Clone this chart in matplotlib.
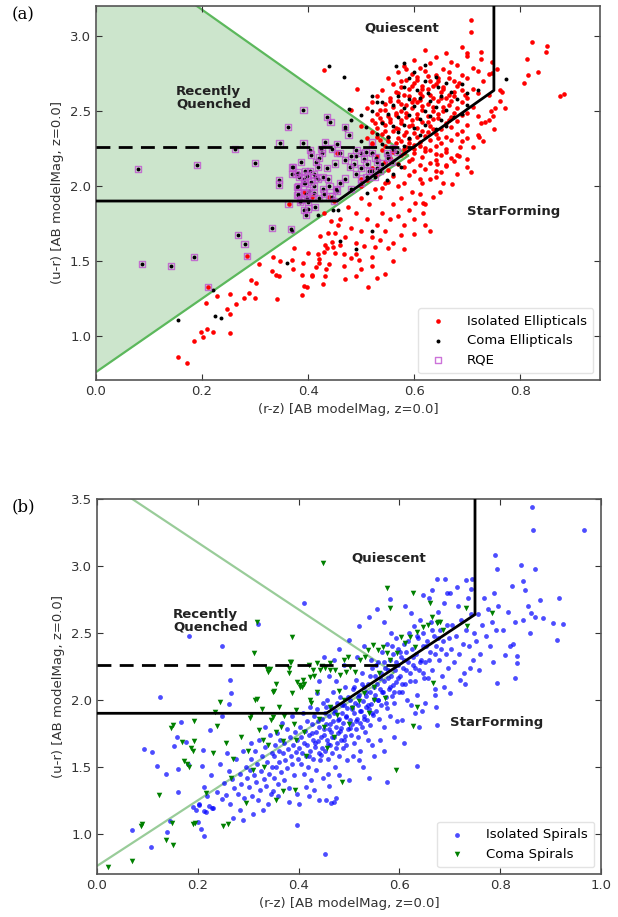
import numpy as np
import matplotlib.pyplot as plt

# colours as (r-z, u-r) pairs
iso_ell = np.array([
    # blue tail running down the lower edge
    (0.155, 0.862), (0.171, 0.818), (0.184, 0.969), (0.197, 1.029), (0.202, 0.996), (0.209, 1.047),
    (0.221, 1.029), (0.253, 1.018), (0.208, 1.218), (0.228, 1.267), (0.252, 1.280), (0.247, 1.178),
    (0.252, 1.147), (0.263, 1.213), (0.279, 1.256), (0.288, 1.284), (0.299, 1.256), (0.293, 1.373),
    (0.302, 1.351), (0.307, 1.478), (0.331, 1.436), (0.333, 1.529), (0.340, 1.407), (0.345, 1.400),
    (0.346, 1.500), (0.342, 1.244), (0.369, 1.507), (0.374, 1.584), (0.371, 1.444), (0.388, 1.407),
    (0.390, 1.484), (0.397, 1.329), (0.388, 1.273), (0.399, 1.551), (0.408, 1.400), (0.414, 1.458),
    (0.419, 1.547), (0.423, 1.667), (0.421, 1.511), (0.434, 1.444), (0.431, 1.607), (0.430, 1.560),
    (0.443, 1.769), (0.438, 1.689), (0.447, 1.596), (0.432, 1.400), (0.428, 1.350), (0.456, 1.740),
    (0.468, 1.470), (0.467, 1.550), (0.430, 1.820), (0.392, 1.333), (0.407, 1.407), (0.420, 1.484),
    (0.435, 1.584), (0.451, 1.551), (0.445, 1.629), (0.495, 1.507), (0.513, 1.329), (0.544, 1.413),
    (0.526, 1.596), (0.550, 1.584), (0.574, 1.673), (0.601, 1.890), (0.617, 1.890), (0.616, 1.818),
    (0.648, 1.962), (0.671, 2.013), (0.707, 2.095),
    (0.47, 1.66), (0.48, 1.72), (0.49, 1.62), (0.50, 1.70), (0.51, 1.78), (0.52, 1.66), (0.53, 1.74),
    (0.54, 1.82), (0.545, 1.70), (0.555, 1.78), (0.56, 1.88), (0.57, 1.80), (0.575, 1.92), (0.58, 1.74),
    (0.59, 1.84), (0.595, 1.96), (0.60, 1.78), (0.61, 1.95), (0.615, 2.02), (0.62, 1.88), (0.63, 2.05),
    (0.635, 1.93), (0.64, 2.10), (0.655, 2.02), (0.66, 2.14), (0.68, 2.08), (0.685, 2.20), (0.69, 2.30),
    (0.70, 2.18), (0.71, 2.26), (0.72, 2.34), (0.725, 2.42), (0.46, 1.78), (0.475, 1.86), (0.49, 1.82),
    (0.50, 1.92), (0.515, 1.88), (0.525, 1.98), (0.535, 1.93), (0.545, 2.02), (0.49, 1.55), (0.505, 1.60),
    (0.52, 1.53), (0.535, 1.64), (0.56, 1.62), (0.58, 1.58), (0.60, 1.68), (0.62, 1.74), (0.63, 1.70),
    (0.45, 1.69), (0.46, 1.61), (0.48, 1.52), (0.50, 1.45), (0.52, 1.47), (0.53, 1.39), (0.56, 1.50),
    (0.47, 1.38), (0.44, 1.48), (0.49, 1.40),
    # main red sequence clump
    (0.62, 2.91), (0.66, 2.89), (0.69, 2.93), (0.60, 2.84), (0.64, 2.86), (0.67, 2.83), (0.70, 2.87),
    (0.58, 2.80), (0.61, 2.79), (0.63, 2.82), (0.655, 2.78), (0.68, 2.81), (0.71, 2.79), (0.57, 2.76),
    (0.595, 2.75), (0.62, 2.77), (0.64, 2.74), (0.665, 2.76), (0.69, 2.74), (0.72, 2.77), (0.74, 2.75),
    (0.55, 2.72), (0.585, 2.71), (0.605, 2.73), (0.63, 2.70), (0.645, 2.72), (0.675, 2.70), (0.70, 2.72),
    (0.73, 2.70), (0.56, 2.68), (0.575, 2.66), (0.60, 2.69), (0.615, 2.67), (0.64, 2.68), (0.655, 2.66),
    (0.68, 2.67), (0.71, 2.65), (0.54, 2.64), (0.565, 2.63), (0.59, 2.645), (0.61, 2.62), (0.625, 2.65),
    (0.65, 2.63), (0.665, 2.61), (0.69, 2.64), (0.72, 2.62), (0.53, 2.60), (0.555, 2.59), (0.58, 2.61),
    (0.60, 2.58), (0.615, 2.60), (0.635, 2.59), (0.66, 2.585), (0.675, 2.60), (0.70, 2.59), (0.74, 2.61),
    (0.52, 2.56), (0.545, 2.55), (0.57, 2.57), (0.585, 2.54), (0.605, 2.56), (0.625, 2.55), (0.645, 2.57),
    (0.665, 2.54), (0.69, 2.56), (0.71, 2.53), (0.51, 2.52), (0.535, 2.51), (0.56, 2.53), (0.575, 2.50),
    (0.595, 2.52), (0.615, 2.51), (0.635, 2.53), (0.655, 2.50), (0.68, 2.52), (0.70, 2.49), (0.53, 2.48),
    (0.55, 2.47), (0.565, 2.49), (0.585, 2.46), (0.605, 2.48), (0.625, 2.465), (0.645, 2.48), (0.67, 2.46),
    (0.69, 2.475), (0.72, 2.47), (0.52, 2.44), (0.54, 2.43), (0.555, 2.45), (0.575, 2.42), (0.595, 2.44),
    (0.615, 2.43), (0.635, 2.445), (0.66, 2.42), (0.68, 2.435), (0.70, 2.41), (0.50, 2.40), (0.53, 2.39),
    (0.545, 2.41), (0.57, 2.38), (0.59, 2.40), (0.605, 2.385), (0.63, 2.40), (0.65, 2.38), (0.67, 2.395),
    (0.69, 2.37), (0.52, 2.36), (0.54, 2.345), (0.56, 2.365), (0.58, 2.34), (0.60, 2.355), (0.62, 2.335),
    (0.64, 2.35), (0.66, 2.33), (0.68, 2.345), (0.51, 2.32), (0.535, 2.31), (0.55, 2.325), (0.575, 2.30),
    (0.59, 2.315), (0.61, 2.295), (0.63, 2.31), (0.65, 2.29), (0.67, 2.305), (0.70, 2.32), (0.52, 2.28),
    (0.545, 2.27), (0.565, 2.285), (0.585, 2.26), (0.60, 2.275), (0.62, 2.255), (0.64, 2.27), (0.66, 2.25),
    (0.54, 2.24), (0.56, 2.23), (0.58, 2.245), (0.60, 2.22), (0.62, 2.235), (0.64, 2.215), (0.66, 2.23),
    (0.68, 2.21), (0.53, 2.20), (0.555, 2.19), (0.575, 2.205), (0.595, 2.18), (0.615, 2.195), (0.64, 2.175),
    (0.67, 2.19), (0.545, 2.16), (0.57, 2.15), (0.59, 2.165), (0.61, 2.14), (0.63, 2.155), (0.66, 2.135),
    (0.52, 2.12), (0.55, 2.11), (0.58, 2.125), (0.60, 2.10), (0.62, 2.115), (0.65, 2.095), (0.70, 2.13),
    (0.53, 2.08), (0.56, 2.065), (0.59, 2.075), (0.61, 2.05), (0.64, 2.06), (0.51, 2.04), (0.55, 2.03),
    (0.58, 2.02), (0.50, 2.00), (0.54, 1.99), (0.57, 2.00),
    (0.585, 2.78), (0.605, 2.71), (0.625, 2.735), (0.645, 2.70), (0.665, 2.72), (0.685, 2.69),
    (0.575, 2.70), (0.595, 2.665), (0.615, 2.645), (0.635, 2.665), (0.655, 2.645), (0.675, 2.625),
    (0.695, 2.61), (0.57, 2.62), (0.59, 2.60), (0.61, 2.575), (0.63, 2.61), (0.65, 2.585), (0.67, 2.565),
    (0.555, 2.57), (0.575, 2.545), (0.595, 2.56), (0.615, 2.535), (0.635, 2.50), (0.655, 2.525),
    (0.675, 2.49), (0.545, 2.505), (0.565, 2.475), (0.585, 2.49), (0.605, 2.455), (0.625, 2.425),
    (0.645, 2.455), (0.665, 2.44), (0.535, 2.455), (0.555, 2.425), (0.575, 2.44), (0.595, 2.41),
    (0.615, 2.37), (0.635, 2.38), (0.525, 2.42), (0.545, 2.37), (0.565, 2.39), (0.585, 2.36),
    (0.605, 2.33), (0.625, 2.36), (0.645, 2.32), (0.53, 2.33), (0.55, 2.30), (0.57, 2.32), (0.59, 2.29),
    (0.61, 2.27), (0.56, 2.26), (0.58, 2.22), (0.60, 2.25), (0.63, 2.24), (0.65, 2.21),
    # outliers
    (0.707, 3.107), (0.707, 3.025), (0.822, 2.962), (0.850, 2.935), (0.848, 2.891), (0.813, 2.845),
    (0.833, 2.762), (0.814, 2.740), (0.806, 2.689), (0.874, 2.600), (0.882, 2.611), (0.726, 2.895),
    (0.726, 2.850), (0.699, 2.885), (0.747, 2.755), (0.762, 2.640), (0.762, 2.570), (0.753, 2.518),
    (0.745, 2.50), (0.77, 2.52), (0.429, 2.773), (0.492, 2.645), (0.48, 2.51), (0.75, 2.38), (0.73, 2.30),
    (0.74, 2.44), (0.747, 2.825), (0.756, 2.78), (0.765, 2.63), (0.734, 2.43), (0.749, 2.47), (0.721, 2.33),
    (0.687, 2.26), (0.674, 2.17), (0.643, 2.15),
])

coma_ell = np.array([
    (0.155, 1.107), (0.220, 1.307), (0.225, 1.136), (0.236, 1.122), (0.360, 1.484), (0.369, 1.700),
    (0.418, 1.807), (0.457, 1.840), (0.460, 1.635), (0.44, 2.80), (0.468, 2.73), (0.521, 2.602),
    (0.477, 2.511), (0.50, 2.473), (0.53, 2.56), (0.508, 2.396), (0.773, 2.711), (0.511, 1.951),
    (0.548, 2.04), (0.447, 1.84), (0.574, 2.129), (0.52, 1.70), (0.49, 1.58),
    (0.59, 2.72), (0.60, 2.76), (0.62, 2.70), (0.64, 2.73), (0.66, 2.69), (0.58, 2.66), (0.605, 2.64),
    (0.625, 2.62), (0.645, 2.66), (0.67, 2.63), (0.69, 2.68), (0.57, 2.60), (0.59, 2.58), (0.61, 2.59),
    (0.63, 2.57), (0.65, 2.60), (0.68, 2.58), (0.56, 2.54), (0.58, 2.52), (0.60, 2.535), (0.62, 2.50),
    (0.64, 2.53), (0.66, 2.51), (0.70, 2.54), (0.55, 2.48), (0.57, 2.46), (0.59, 2.475), (0.61, 2.45),
    (0.63, 2.47), (0.65, 2.44), (0.675, 2.46), (0.54, 2.42), (0.56, 2.40), (0.58, 2.41), (0.60, 2.39),
    (0.62, 2.41), (0.64, 2.38), (0.53, 2.35), (0.55, 2.33), (0.57, 2.36), (0.59, 2.32), (0.61, 2.34),
    (0.54, 2.28), (0.56, 2.25), (0.58, 2.27), (0.52, 2.22), (0.55, 2.20), (0.57, 2.15), (0.53, 2.12),
    (0.51, 2.06), (0.56, 2.08), (0.565, 2.80), (0.58, 2.82), (0.62, 2.81), (0.70, 2.62), (0.72, 2.64),
    (0.66, 2.40), (0.69, 2.48), (0.54, 2.56), (0.52, 2.50), (0.50, 2.30), (0.49, 2.20), (0.47, 2.38),
    (0.48, 2.44),
])

# recently quenched ellipticals, split by which sample they come from
rqe_coma = np.array([
    (0.079, 2.113), (0.087, 1.480), (0.142, 1.467), (0.184, 1.527), (0.190, 2.142), (0.262, 2.249),
    (0.267, 1.673), (0.280, 1.613), (0.300, 2.156), (0.332, 1.722), (0.345, 2.040), (0.345, 2.010),
    (0.346, 2.284), (0.362, 2.393), (0.367, 1.711), (0.391, 2.507), (0.391, 2.284), (0.381, 2.090),
    (0.381, 2.000), (0.381, 1.950), (0.369, 2.124), (0.387, 2.160), (0.394, 2.020), (0.387, 1.910),
    (0.392, 1.840), (0.397, 1.920), (0.400, 1.850), (0.394, 2.100), (0.404, 2.240), (0.405, 2.210),
    (0.404, 2.100), (0.410, 2.080), (0.412, 2.060), (0.396, 1.807), (0.393, 2.018), (0.379, 1.996),
    (0.436, 2.462), (0.442, 2.429), (0.470, 2.396), (0.476, 2.340), (0.432, 2.295), (0.445, 2.250),
    (0.455, 2.280), (0.426, 2.218), (0.420, 2.190), (0.415, 2.160), (0.419, 2.129), (0.435, 2.120),
    (0.450, 2.150), (0.460, 2.220), (0.470, 2.173), (0.480, 2.200), (0.487, 2.150), (0.491, 2.240),
    (0.500, 2.220), (0.505, 2.180), (0.479, 2.129), (0.490, 2.080), (0.500, 2.120), (0.510, 2.150),
    (0.515, 2.100), (0.508, 2.229), (0.520, 2.220), (0.527, 2.190), (0.520, 2.100), (0.525, 2.060),
    (0.535, 2.100), (0.540, 2.150), (0.550, 2.190), (0.548, 2.218), (0.558, 2.160), (0.560, 2.250),
    (0.567, 2.230), (0.372, 2.129), (0.370, 2.080), (0.377, 2.080), (0.383, 2.060), (0.392, 2.050),
    (0.398, 2.070), (0.405, 2.030), (0.410, 2.000), (0.418, 2.050), (0.427, 2.060), (0.437, 2.050),
    (0.460, 2.018), (0.453, 1.980), (0.440, 2.000), (0.428, 1.980), (0.410, 1.951), (0.402, 1.970),
    (0.395, 1.950), (0.380, 1.940), (0.385, 1.895), (0.400, 1.895), (0.413, 1.862), (0.420, 1.920),
    (0.430, 1.950), (0.445, 1.930), (0.455, 1.970), (0.470, 2.050), (0.480, 1.980), (0.500, 2.020),
    (0.510, 2.060), (0.530, 2.160), (0.425, 2.245),
])
rqe_iso = np.array([
    (0.211, 1.329), (0.285, 1.533), (0.363, 1.880), (0.393, 1.960), (0.407, 1.930), (0.448, 1.900),
    (0.455, 2.220), (0.520, 2.290), (0.440, 1.930), (0.500, 2.050),
])

iso_spi = np.array([
    # sparse blue end
    (0.249, 2.405), (0.125, 2.025), (0.263, 2.149), (0.265, 2.050), (0.094, 1.632), (0.109, 1.610),
    (0.119, 1.510), (0.137, 1.443), (0.160, 1.313), (0.167, 1.838), (0.159, 1.726), (0.153, 1.658),
    (0.177, 1.689), (0.161, 1.483), (0.181, 1.525), (0.210, 1.627), (0.208, 1.507), (0.225, 1.776),
    (0.248, 1.881), (0.069, 1.030), (0.108, 0.900), (0.138, 1.010), (0.145, 1.095), (0.201, 1.087),
    (0.206, 1.035), (0.213, 0.987), (0.190, 1.200), (0.196, 1.180), (0.203, 1.215), (0.213, 1.172),
    (0.217, 1.160), (0.223, 1.205), (0.228, 1.190), (0.397, 1.067), (0.452, 0.849), (0.474, 1.270),
    (0.470, 1.240), (0.675, 1.813), (0.634, 1.510), (0.576, 1.390), (0.540, 1.414), (0.440, 1.250),
    (0.455, 1.255), (0.465, 1.230), (0.183, 2.48), (0.262, 1.97), (0.320, 2.57), (0.41, 2.72),
    # main cloud
    (0.203, 1.22), (0.212, 1.35), (0.218, 1.28), (0.226, 1.44), (0.231, 1.19), (0.238, 1.31), (0.244, 1.52),
    (0.249, 1.26), (0.252, 1.38), (0.256, 1.29), (0.261, 1.47), (0.264, 1.22), (0.268, 1.41), (0.272, 1.34),
    (0.275, 1.56), (0.279, 1.30), (0.283, 1.45), (0.286, 1.37), (0.289, 1.62), (0.292, 1.27), (0.295, 1.50),
    (0.298, 1.42), (0.257, 1.60), (0.284, 1.18),
    (0.301, 1.35), (0.303, 1.48), (0.306, 1.56), (0.308, 1.28), (0.311, 1.44), (0.313, 1.62), (0.316, 1.39),
    (0.318, 1.52), (0.321, 1.70), (0.323, 1.33), (0.326, 1.47), (0.328, 1.58), (0.331, 1.41), (0.333, 1.65),
    (0.336, 1.36), (0.338, 1.54), (0.341, 1.45), (0.343, 1.74), (0.346, 1.30), (0.348, 1.60), (0.305, 1.68),
    (0.319, 1.25), (0.334, 1.80), (0.347, 1.50),
    (0.351, 1.42), (0.352, 1.58), (0.354, 1.66), (0.356, 1.50), (0.357, 1.75), (0.359, 1.37), (0.361, 1.62),
    (0.362, 1.54), (0.364, 1.70), (0.366, 1.46), (0.367, 1.83), (0.369, 1.60), (0.371, 1.40), (0.372, 1.68),
    (0.374, 1.55), (0.376, 1.78), (0.377, 1.49), (0.379, 1.63), (0.381, 1.34), (0.382, 1.72), (0.384, 1.58),
    (0.386, 1.88), (0.387, 1.52), (0.389, 1.66), (0.391, 1.44), (0.392, 1.76), (0.394, 1.61), (0.396, 1.70),
    (0.397, 1.30), (0.399, 1.56),
    (0.401, 1.64), (0.402, 1.80), (0.404, 1.52), (0.405, 1.72), (0.407, 1.60), (0.408, 1.90), (0.410, 1.45),
    (0.411, 1.68), (0.413, 1.77), (0.414, 1.58), (0.416, 1.84), (0.417, 1.66), (0.419, 1.50), (0.420, 1.74),
    (0.422, 1.95), (0.423, 1.62), (0.425, 1.40), (0.426, 1.82), (0.428, 1.70), (0.429, 1.56), (0.431, 1.88),
    (0.432, 1.65), (0.434, 1.76), (0.435, 1.48), (0.437, 1.93), (0.438, 1.69), (0.440, 1.60), (0.441, 1.80),
    (0.443, 1.55), (0.444, 1.72), (0.446, 1.86), (0.447, 1.64), (0.449, 1.98), (0.448, 1.42), (0.415, 1.35),
    (0.436, 2.05),
    (0.451, 1.74), (0.452, 1.90), (0.453, 1.62), (0.455, 1.82), (0.456, 1.70), (0.457, 2.00), (0.459, 1.56),
    (0.460, 1.78), (0.461, 1.88), (0.463, 1.66), (0.464, 1.95), (0.465, 1.76), (0.467, 1.60), (0.468, 1.84),
    (0.469, 2.06), (0.471, 1.72), (0.472, 1.50), (0.473, 1.92), (0.475, 1.80), (0.476, 1.68), (0.477, 1.98),
    (0.479, 1.75), (0.480, 1.86), (0.481, 1.58), (0.483, 2.02), (0.484, 1.79), (0.485, 1.70), (0.487, 1.90),
    (0.488, 1.64), (0.489, 1.83), (0.491, 1.96), (0.492, 1.73), (0.493, 2.10), (0.495, 1.87), (0.496, 1.55),
    (0.497, 1.94), (0.499, 1.78), (0.458, 1.45), (0.474, 2.14), (0.494, 1.66),
    (0.501, 1.85), (0.502, 2.00), (0.504, 1.74), (0.505, 1.93), (0.506, 1.82), (0.508, 2.08), (0.509, 1.68),
    (0.510, 1.90), (0.512, 1.98), (0.513, 1.78), (0.514, 2.15), (0.516, 1.86), (0.517, 1.72), (0.518, 1.96),
    (0.520, 2.04), (0.521, 1.83), (0.522, 1.62), (0.524, 1.92), (0.525, 2.20), (0.526, 1.80), (0.528, 1.99),
    (0.529, 1.88), (0.530, 2.10), (0.532, 1.76), (0.533, 1.95), (0.534, 2.03), (0.536, 1.85), (0.537, 1.70),
    (0.538, 2.12), (0.540, 1.93), (0.541, 1.81), (0.542, 2.06), (0.544, 1.97), (0.545, 1.66), (0.546, 2.24),
    (0.548, 1.89), (0.549, 2.01), (0.507, 1.58), (0.527, 1.50), (0.543, 2.30),
    (0.551, 2.04), (0.552, 2.18), (0.554, 1.92), (0.555, 2.12), (0.557, 2.00), (0.558, 2.28), (0.560, 1.86),
    (0.561, 2.08), (0.563, 2.20), (0.564, 1.96), (0.566, 2.36), (0.567, 2.06), (0.569, 1.80), (0.570, 2.14),
    (0.572, 2.24), (0.573, 2.02), (0.575, 2.42), (0.576, 1.94), (0.578, 2.16), (0.579, 2.08), (0.581, 2.30),
    (0.582, 1.88), (0.584, 2.18), (0.585, 2.03), (0.587, 2.34), (0.588, 2.11), (0.590, 1.98), (0.591, 2.22),
    (0.593, 2.46), (0.594, 2.13), (0.596, 1.84), (0.597, 2.26), (0.599, 2.06), (0.562, 1.70), (0.583, 2.50),
    (0.598, 2.38),
    (0.601, 2.18), (0.603, 2.32), (0.605, 2.06), (0.607, 2.24), (0.609, 2.42), (0.611, 2.12), (0.613, 2.36),
    (0.615, 2.00), (0.617, 2.28), (0.619, 2.50), (0.621, 2.20), (0.623, 1.96), (0.625, 2.38), (0.627, 2.26),
    (0.629, 2.55), (0.631, 2.14), (0.633, 2.34), (0.635, 2.04), (0.637, 2.46), (0.639, 2.22), (0.641, 2.60),
    (0.643, 2.30), (0.645, 1.92), (0.647, 2.40), (0.649, 2.16), (0.606, 1.85), (0.624, 2.65), (0.638, 1.80),
    (0.612, 2.70), (0.646, 2.50),
    (0.651, 2.28), (0.654, 2.44), (0.657, 2.16), (0.660, 2.36), (0.662, 2.58), (0.665, 2.22), (0.668, 2.48),
    (0.670, 2.08), (0.673, 2.40), (0.676, 2.66), (0.678, 2.30), (0.681, 2.52), (0.684, 2.18), (0.686, 2.44),
    (0.689, 2.72), (0.692, 2.34), (0.694, 2.56), (0.697, 2.24), (0.699, 2.46), (0.658, 2.76), (0.672, 1.95),
    (0.688, 2.10), (0.664, 2.82), (0.695, 2.80),
    (0.702, 2.38), (0.705, 2.56), (0.709, 2.28), (0.712, 2.48), (0.716, 2.70), (0.719, 2.34), (0.722, 2.60),
    (0.726, 2.42), (0.729, 2.20), (0.733, 2.52), (0.736, 2.76), (0.739, 2.40), (0.743, 2.64), (0.746, 2.30),
    (0.749, 2.50), (0.714, 2.84), (0.731, 2.12), (0.745, 2.90),
    (0.752, 2.44), (0.756, 2.64), (0.760, 2.34), (0.764, 2.56), (0.768, 2.76), (0.772, 2.48), (0.776, 2.68),
    (0.780, 2.40), (0.784, 2.58), (0.788, 2.80), (0.792, 2.52), (0.796, 2.70), (0.758, 2.22), (0.785, 2.28),
    (0.421, 1.58), (0.427, 1.75), (0.433, 1.68), (0.439, 1.84), (0.445, 1.59), (0.450, 1.78), (0.454, 1.95),
    (0.458, 1.67), (0.462, 1.82), (0.466, 1.72), (0.470, 1.90), (0.474, 1.64), (0.478, 1.85), (0.482, 1.77),
    (0.486, 1.96), (0.490, 1.70), (0.494, 1.88), (0.498, 2.02), (0.502, 1.79), (0.506, 1.95), (0.510, 2.10),
    (0.514, 1.84), (0.518, 2.02), (0.522, 1.92), (0.526, 2.12), (0.530, 1.86), (0.534, 2.06), (0.538, 1.96),
    (0.542, 2.18), (0.546, 1.90), (0.550, 2.10), (0.554, 2.26), (0.558, 2.00), (0.562, 2.16), (0.566, 2.06),
    (0.570, 2.28), (0.574, 1.98), (0.578, 2.22), (0.582, 2.10), (0.586, 2.40), (0.590, 2.06), (0.594, 2.28),
    (0.598, 2.16), (0.602, 2.36), (0.606, 2.12), (0.610, 2.30), (0.614, 2.22), (0.618, 2.44), (0.622, 2.14),
    (0.626, 2.32), (0.630, 2.24), (0.634, 2.48), (0.640, 2.28), (0.646, 2.20), (0.652, 2.40), (0.658, 2.30),
    (0.664, 2.52), (0.670, 2.34), (0.676, 2.46), (0.682, 2.38),
    (0.52, 2.55), (0.54, 2.62), (0.555, 2.68), (0.57, 2.58), (0.50, 2.45), (0.48, 2.38), (0.53, 2.40),
    (0.515, 2.32), (0.49, 2.26), (0.47, 2.30), (0.46, 2.18), (0.44, 2.14), (0.45, 2.32),
    (0.38, 1.24), (0.40, 1.22), (0.42, 1.28), (0.36, 1.28), (0.34, 1.22), (0.33, 1.18), (0.31, 1.15),
    (0.29, 1.10), (0.27, 1.12), (0.35, 1.32), (0.43, 1.33), (0.46, 1.36), (0.48, 1.44), (0.50, 1.40),
    (0.52, 1.55), (0.55, 1.58), (0.57, 1.62), (0.59, 1.72), (0.61, 1.68), (0.63, 1.90), (0.65, 1.98),
    (0.67, 2.04), (0.70, 2.05), (0.72, 2.15), (0.74, 2.24),
    # red end
    (0.863, 3.442), (0.866, 3.269), (0.967, 3.269), (0.790, 3.082), (0.794, 2.974), (0.841, 3.004),
    (0.869, 2.979), (0.845, 2.890), (0.823, 2.850), (0.849, 2.820), (0.879, 2.746), (0.917, 2.763),
    (0.905, 2.571), (0.924, 2.563), (0.912, 2.448), (0.884, 2.610), (0.862, 2.646), (0.845, 2.600),
    (0.675, 2.900), (0.690, 2.900), (0.732, 2.896), (0.743, 2.826), (0.700, 2.800), (0.647, 2.784),
    (0.581, 2.751), (0.794, 2.129), (0.830, 2.166), (0.834, 2.272), (0.833, 2.330), (0.810, 2.336),
    (0.825, 2.420), (0.805, 2.52), (0.815, 2.66), (0.820, 2.40), (0.830, 2.58), (0.855, 2.70),
    (0.860, 2.50), (0.870, 2.62),
])

coma_spi = np.array([
    (0.311, 2.349), (0.021, 0.756), (0.069, 0.799), (0.087, 1.060), (0.090, 1.075), (0.124, 1.289),
    (0.137, 0.955), (0.150, 0.918), (0.148, 1.084), (0.147, 1.790), (0.150, 1.810), (0.169, 1.689),
    (0.173, 1.545), (0.178, 1.520), (0.182, 1.500), (0.186, 1.640), (0.190, 1.620), (0.192, 1.690),
    (0.192, 1.843), (0.190, 1.075), (0.195, 1.080), (0.216, 1.308), (0.235, 1.913), (0.230, 1.600),
    (0.238, 1.806), (0.245, 1.987), (0.250, 1.060), (0.260, 1.075), (0.256, 1.677), (0.266, 1.415),
    (0.296, 1.233), (0.304, 1.866), (0.306, 1.890), (0.313, 2.000), (0.318, 2.010), (0.322, 1.776),
    (0.332, 1.502), (0.339, 2.209), (0.344, 2.230), (0.345, 1.850), (0.350, 1.870), (0.350, 2.062),
    (0.355, 1.254), (0.361, 1.950), (0.365, 1.800), (0.369, 1.320), (0.381, 2.239), (0.385, 2.280),
    (0.387, 2.055), (0.392, 1.330), (0.395, 1.925), (0.397, 2.137), (0.403, 2.110), (0.407, 2.100),
    (0.411, 2.120), (0.420, 2.260), (0.425, 1.980), (0.430, 2.180), (0.437, 2.060), (0.446, 2.250),
    (0.462, 2.220), (0.480, 2.070), (0.494, 2.210), (0.487, 1.390), (0.456, 1.642), (0.448, 3.020),
    (0.317, 2.584), (0.386, 2.472), (0.337, 2.230), (0.383, 2.286), (0.380, 2.200), (0.351, 2.067),
    (0.403, 2.099), (0.409, 2.149), (0.423, 2.174), (0.429, 2.224), (0.436, 2.274), (0.442, 2.224),
    (0.452, 2.236), (0.462, 2.274), (0.472, 2.224), (0.482, 2.187), (0.491, 2.299), (0.499, 2.323),
    (0.502, 2.249), (0.512, 2.212), (0.522, 2.299), (0.532, 2.323), (0.538, 2.373), (0.548, 2.410),
    (0.558, 2.373), (0.568, 2.398), (0.575, 2.348), (0.581, 2.299), (0.595, 2.348), (0.604, 2.472),
    (0.611, 2.422), (0.621, 2.472), (0.631, 2.398), (0.634, 2.510), (0.647, 2.547), (0.657, 2.560),
    (0.664, 2.622), (0.674, 2.572), (0.681, 2.584), (0.687, 2.522), (0.462, 1.950), (0.476, 1.888),
    (0.423, 2.000), (0.661, 2.720), (0.733, 2.684), (0.784, 2.646), (0.626, 2.795), (0.677, 2.584),
    (0.581, 2.684), (0.575, 2.838), (0.735, 2.550), (0.667, 2.123), (0.634, 1.950), (0.626, 1.806),
    (0.593, 1.478), (0.571, 2.011), (0.550, 2.100), (0.560, 2.200), (0.550, 2.000), (0.540, 1.900),
    (0.310, 1.480), (0.300, 1.620), (0.285, 1.720), (0.270, 1.560), (0.330, 1.700), (0.340, 1.660),
    (0.355, 1.760), (0.370, 1.690), (0.390, 1.820), (0.410, 1.760), (0.440, 1.860), (0.450, 1.800),
    (0.470, 1.720), (0.500, 1.820), (0.520, 1.990), (0.530, 2.050), (0.505, 1.940), (0.490, 2.000),
    (0.415, 1.580), (0.395, 1.700), (0.372, 1.880), (0.356, 2.120), (0.328, 1.930),
])

# colour-colour cuts
cut_y, cut_knee_x, cut_slope, cut_edge_x = 1.9, 0.455, 2.5, 0.75
dash_y = 2.26
rq_lo = (0.76, 2.45)    # intercept, slope of the lower recently-quenched edge
rq_hi = (3.675, -2.5)   # upper edge


def decorate(ax, ytop, fill):
    xs = np.linspace(0, 1.0, 200)
    lo = rq_lo[0] + rq_lo[1] * xs
    hi = rq_hi[0] + rq_hi[1] * xs
    ok = lo <= hi
    if fill:
        ax.fill_between(xs[ok], lo[ok], hi[ok], color='green', alpha=0.2, lw=0, zorder=0)
        ax.plot(xs[ok], lo[ok], color='#5cb85c', lw=1.6, zorder=1)
        ax.plot(xs[ok], hi[ok], color='#5cb85c', lw=1.6, zorder=1)
    else:
        ax.plot(xs[ok], lo[ok], color='green', alpha=0.4, lw=1.6, zorder=1)
        ax.plot(xs[ok], hi[ok], color='green', alpha=0.4, lw=1.6, zorder=1)

    edge_y = cut_y + cut_slope * (cut_edge_x - cut_knee_x)
    ax.plot([0, cut_knee_x, cut_edge_x, cut_edge_x], [cut_y, cut_y, edge_y, ytop + 1],
            color='black', lw=2, zorder=5)
    dash_end = cut_knee_x + (dash_y - cut_y) / cut_slope
    ax.plot([0, dash_end], [dash_y, dash_y], color='black', lw=2, ls=(0, (5, 3)), zorder=5)

    ax.tick_params(direction='in', top=True, right=True, length=4, labelsize=9.5,
                   colors='#333333')
    for s in ax.spines.values():
        s.set_color('#555555')
        s.set_linewidth(1.2)
    ax.set_xlabel('(r-z) [AB modelMag, z=0.0]', fontsize=9.5, color='#333333')
    ax.set_ylabel('(u-r) [AB modelMag, z=0.0]', fontsize=9.5, color='#333333')
    bold = dict(fontsize=9.5, fontweight='bold', color='#222222', zorder=6)
    ax.text(0.505, 3.03, 'Quiescent', **bold)
    ax.text(0.151, 2.59, 'Recently\nQuenched', va='center', linespacing=1.0, **bold)
    ax.text(0.70, 1.83, 'StarForming', va='center', **bold)


fig = plt.figure(figsize=(6.18, 9.17), dpi=100)

# (a) ellipticals
ax1 = fig.add_axes([96 / 618, 1 - 380 / 917, 504 / 618, 374 / 917])
ax1.scatter(iso_ell[:, 0], iso_ell[:, 1], s=11, c='red', lw=0, zorder=2, label='Isolated Ellipticals')
ax1.scatter(rqe_iso[:, 0], rqe_iso[:, 1], s=11, c='red', lw=0, zorder=2)
coma_all = np.vstack([coma_ell, rqe_coma])
ax1.scatter(coma_all[:, 0], coma_all[:, 1], s=8, c='black', lw=0, zorder=3, label='Coma Ellipticals')
rqe_all = np.vstack([rqe_coma, rqe_iso])
ax1.scatter(rqe_all[:, 0], rqe_all[:, 1], s=20, marker='s', facecolors='none',
            edgecolors='#c050d0', lw=1.0, alpha=0.8, zorder=4, label='RQE')
ax1.set_xlim(0, 0.95)
ax1.set_ylim(0.707, 3.2)
ax1.set_xticks([0.0, 0.2, 0.4, 0.6, 0.8])
ax1.set_yticks([1.0, 1.5, 2.0, 2.5, 3.0])
decorate(ax1, 3.2, fill=True)
ax1.legend(loc='lower right', scatterpoints=1, fontsize=9.5, framealpha=0.8,
           edgecolor='#dddddd', borderpad=0.5, handletextpad=1.2, labelspacing=0.5)

# (b) spirals
ax2 = fig.add_axes([97 / 618, 1 - 874 / 917, 504 / 618, 375 / 917])
ax2.scatter(iso_spi[:, 0], iso_spi[:, 1], s=12, c='blue', alpha=0.7, lw=0, zorder=2,
            label='Isolated Spirals')
ax2.scatter(coma_spi[:, 0], coma_spi[:, 1], s=16, marker='v', c='green', lw=0, zorder=3,
            label='Coma Spirals')
ax2.set_xlim(0, 1.0)
ax2.set_ylim(0.70, 3.5)
ax2.set_xticks([0.0, 0.2, 0.4, 0.6, 0.8, 1.0])
ax2.set_yticks([1.0, 1.5, 2.0, 2.5, 3.0, 3.5])
decorate(ax2, 3.5, fill=False)
ax2.legend(loc='lower right', scatterpoints=1, fontsize=9.5, framealpha=0.8,
           edgecolor='#dddddd', borderpad=0.5, handletextpad=1.2, labelspacing=0.5)

fig.text(12 / 618, 1 - 15 / 917, '(a)', family='DejaVu Serif', fontsize=12, va='center')
fig.text(12 / 618, 1 - 507 / 917, '(b)', family='DejaVu Serif', fontsize=12, va='center')

fig.savefig('out.png', dpi=100)
